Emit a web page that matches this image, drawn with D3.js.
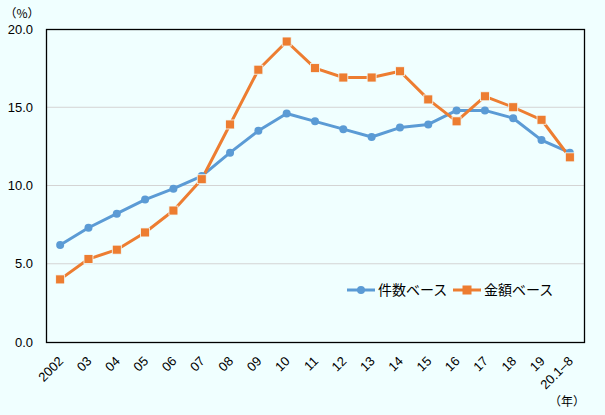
<!DOCTYPE html>
<html>
<head>
<meta charset="utf-8">
<script src="https://cdn.jsdelivr.net/npm/d3@7"></script>
<style>
    html, body { margin: 0; padding: 0; background: #f0ffff; }
    svg { display: block; }
    text { font-family: "Liberation Sans", Arial, "Noto Sans CJK JP", sans-serif; fill: #000; }
    .jp { font-family: "Noto Sans CJK JP", sans-serif; }
</style>
</head>
<body>
<svg id="chart"></svg>
<script>
// categories (years)
var years = ["2002", "03", "04", "05", "06", "07", "08", "09", "10", "11",
    "12", "13", "14", "15", "16", "17", "18", "19", "20.1-8"];
// 件数ベース
var countBase = [6.2, 7.3, 8.2, 9.1, 9.8, 10.6, 12.1, 13.5, 14.6, 14.1,
    13.6, 13.1, 13.7, 13.9, 14.8, 14.8, 14.3, 12.9, 12.1];
// 金額ベース
var amountBase = [4.0, 5.3, 5.9, 7.0, 8.4, 10.4, 13.9, 17.4, 19.2, 17.5,
    16.9, 16.9, 17.3, 15.5, 14.1, 15.7, 15.0, 14.2, 11.8];
var yTicks = [0, 5, 10, 15, 20];
var seriesNames = ["件数ベース", "金額ベース"];

var width = 605, height = 415;
var margin = {top: 29, right: 21, bottom: 73, left: 46};
var colors = ["#5b9bd5", "#ed7d31"];

var svg = d3.select("#chart")
    .attr("width", width)
    .attr("height", height);

var plotW = width - margin.left - margin.right;
var plotH = height - margin.top - margin.bottom;

var x = d3.scaleBand()
    .domain(years)
    .range([margin.left, margin.left + plotW]);
var y = d3.scaleLinear()
    .domain([0, 20])
    .range([margin.top + plotH, margin.top]);

function cx(d, i) {
    return x(years[i]) + x.bandwidth() / 2;
}

// gridlines
svg.append("g")
    .selectAll("line")
    .data(yTicks.slice(1, 4))
    .enter()
    .append("line")
    .attr("x1", margin.left)
    .attr("x2", margin.left + plotW)
    .attr("y1", function (d) { return y(d); })
    .attr("y2", function (d) { return y(d); })
    .attr("stroke", "#d4d4d4")
    .attr("stroke-width", 1);

// plot frame
svg.append("rect")
    .attr("x", margin.left + 0.5)
    .attr("y", margin.top + 0.5)
    .attr("width", plotW)
    .attr("height", plotH)
    .attr("fill", "none")
    .attr("stroke", "#000")
    .attr("stroke-width", 1.3);

// y axis labels
svg.append("g")
    .selectAll("text")
    .data(yTicks)
    .enter()
    .append("text")
    .attr("x", 33)
    .attr("y", function (d) { return y(d); })
    .attr("dy", "0.35em")
    .attr("text-anchor", "end")
    .style("font-size", "13px")
    .text(function (d) { return d3.format(".1f")(d); });

svg.append("text")
    .attr("class", "jp")
    .attr("x", 22)
    .attr("y", 18)
    .attr("text-anchor", "middle")
    .style("font-size", "12px")
    .text("（%）");

// x axis labels
svg.append("g")
    .selectAll("text")
    .data(years)
    .enter()
    .append("text")
    .attr("transform", function (d) {
        return "translate(" + (x(d) + x.bandwidth() / 2 + 4) + "," + 362 + ") rotate(-45)";
    })
    .attr("text-anchor", "end")
    .style("font-size", "13px")
    .text(function (d) { return d.replace("-", "–"); });

svg.append("text")
    .attr("class", "jp")
    .attr("x", 567)
    .attr("y", 406)
    .attr("text-anchor", "middle")
    .style("font-size", "12px")
    .text("（年）");

// lines
var line = d3.line()
    .x(cx)
    .y(function (d) { return y(d); });

[countBase, amountBase].forEach(function (vals, k) {
    svg.append("path")
        .datum(vals)
        .attr("d", line)
        .attr("fill", "none")
        .attr("stroke", colors[k])
        .attr("stroke-width", 3)
        .attr("stroke-linejoin", "round");
});

// markers
svg.append("g")
    .selectAll("circle")
    .data(countBase)
    .enter()
    .append("circle")
    .attr("cx", cx)
    .attr("cy", function (d) { return y(d); })
    .attr("r", 4)
    .attr("fill", colors[0]);

svg.append("g")
    .selectAll("rect")
    .data(amountBase)
    .enter()
    .append("rect")
    .attr("x", function (d, i) { return cx(d, i) - 4.5; })
    .attr("y", function (d) { return y(d) - 4.5; })
    .attr("width", 9)
    .attr("height", 9)
    .attr("fill", colors[1])
    .attr("stroke", "#f0ffff")
    .attr("stroke-width", 0.8);

// legend
var legend = svg.append("g");
var legendX = [347, 453];
seriesNames.forEach(function (name, k) {
    var g = legend.append("g").attr("transform", "translate(" + legendX[k] + ",290)");
    g.append("line")
        .attr("x1", 0).attr("x2", 28)
        .attr("y1", 0).attr("y2", 0)
        .attr("stroke", colors[k])
        .attr("stroke-width", 3);
    if (k === 0) {
        g.append("circle").attr("cx", 14).attr("cy", 0).attr("r", 4).attr("fill", colors[k]);
    } else {
        g.append("rect").attr("x", 9.5).attr("y", -4.5).attr("width", 9).attr("height", 9)
            .attr("fill", colors[k]);
    }
    g.append("text")
        .attr("class", "jp")
        .attr("x", 31)
        .attr("y", 0)
        .attr("dy", "0.36em")
        .style("font-size", "14px")
        .text(name);
});
</script>
</body>
</html>
